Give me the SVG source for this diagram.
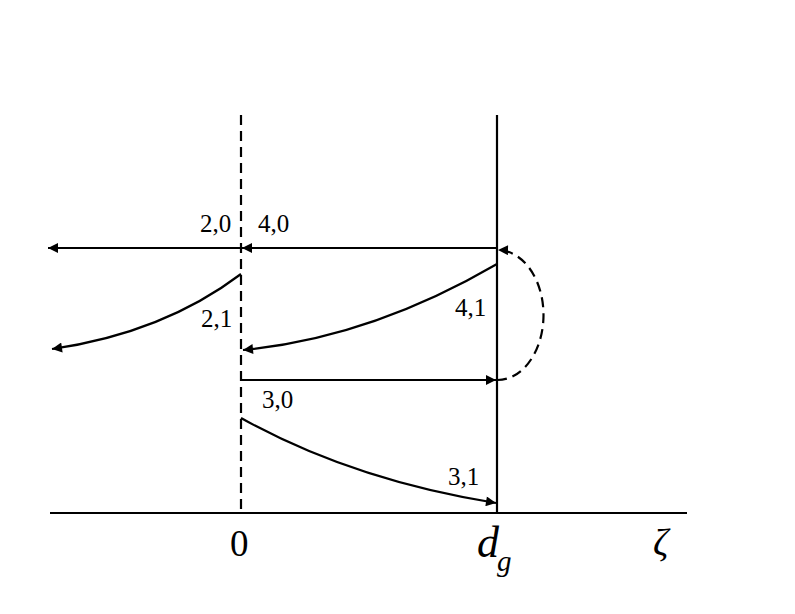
<svg xmlns="http://www.w3.org/2000/svg" width="795" height="614" viewBox="0 0 795 614">
<defs>
<marker id="ah" viewBox="0 0 10 10" refX="10" refY="5" markerWidth="15" markerHeight="10" markerUnits="userSpaceOnUse" orient="auto">
<path d="M0,0 L10,5 L0,10 z" fill="#000"/>
</marker>
<style>
.ln{stroke:#000;stroke-width:2.2;fill:none}
.ds{stroke:#000;stroke-width:2.2;fill:none;stroke-dasharray:10,6}
.lb{font-family:"Liberation Serif","Times New Roman",serif;font-size:25px;fill:#000}
.ax{font-family:"Liberation Serif","Times New Roman",serif;fill:#000}
</style>
</defs>
<rect width="795" height="614" fill="#fff"/>
<g id="axes">
<line class="ds" x1="241" y1="115" x2="241" y2="513"/>
<line class="ln" x1="497" y1="115" x2="497" y2="513"/>
<line class="ln" x1="50" y1="513" x2="687" y2="513"/>
</g>
<g id="connectors">
<line class="ln" x1="497" y1="248" x2="242" y2="248" marker-end="url(#ah)"/>
<line class="ln" x1="241" y1="248" x2="48" y2="248" marker-end="url(#ah)"/>
<path class="ln" d="M241,274 Q163,333 52,349" marker-end="url(#ah)"/>
<path class="ln" d="M497,264 Q370,338 243,350" marker-end="url(#ah)"/>
<line class="ln" x1="241" y1="380" x2="496" y2="380" marker-end="url(#ah)"/>
<path class="ln" d="M241,418 Q352,480 496,503" marker-end="url(#ah)"/>
<path class="ds" d="M497,380 A46,65 0 0 0 498,250" marker-end="url(#ah)"/>
</g>
<g id="labels">
<text class="lb" x="200" y="232">2,0</text>
<text class="lb" x="258" y="232">4,0</text>
<text class="lb" x="201" y="327">2,1</text>
<text class="lb" x="455" y="316">4,1</text>
<text class="lb" x="262" y="408">3,0</text>
<text class="lb" x="448" y="485">3,1</text>
<text class="ax" x="230" y="556" font-size="37">0</text>
<text class="ax" x="477" y="557" font-size="44" font-style="italic">d</text>
<text class="ax" x="497" y="571" font-size="29" font-style="italic">g</text>
<text class="ax" x="653" y="555" font-size="38" font-style="italic">ζ</text>
</g>
</svg>
